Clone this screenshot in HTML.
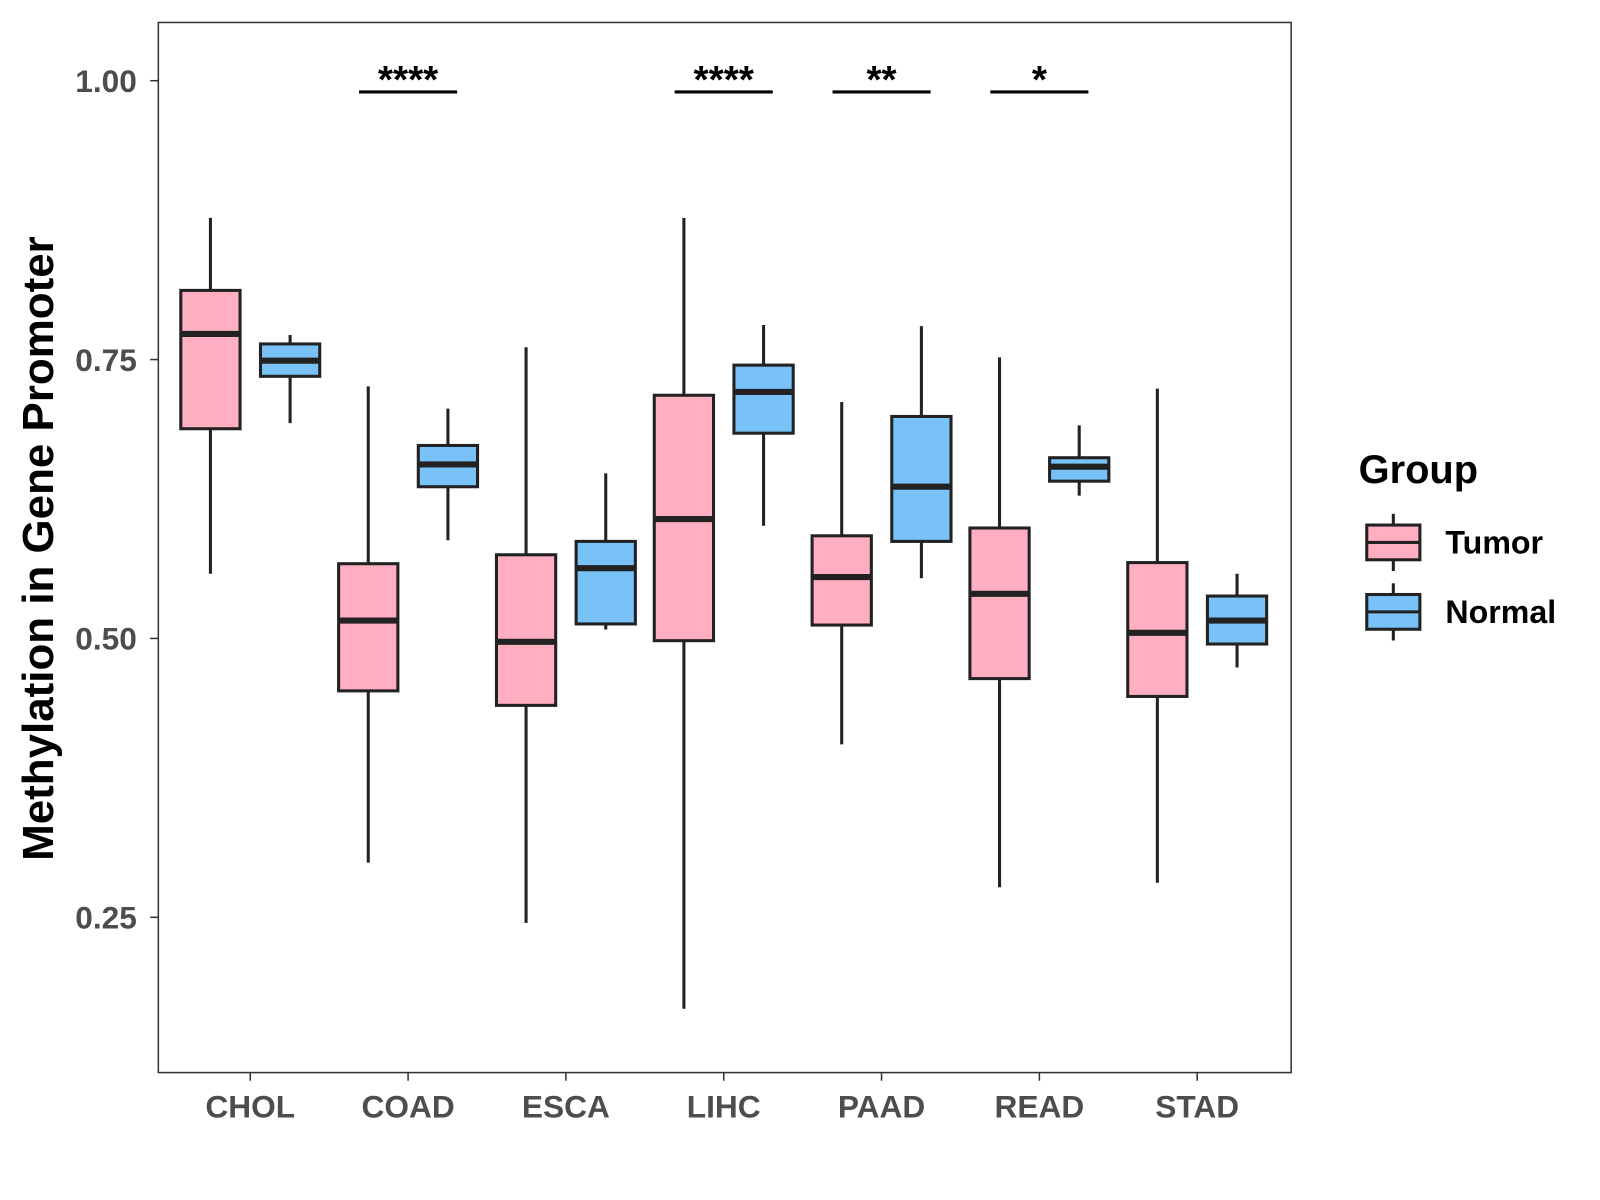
<!DOCTYPE html>
<html><head><meta charset="utf-8"><style>body{margin:0;background:#fff}svg{display:block;font-family:"Liberation Sans",Arial,sans-serif}</style></head>
<body>
<svg id="chart" width="1600" height="1200" viewBox="0 0 1600 1200" xmlns="http://www.w3.org/2000/svg">
<rect width="1600" height="1200" fill="#fff"/>
<g id="plot" transform="scale(1.0215)"></g>
</svg>
<script>
const categories = ["CHOL","COAD","ESCA","LIHC","PAAD","READ","STAD"];
// [lowerWhisker, Q1, median, Q3, upperWhisker]
const tumorStats = [
 [0.558,0.688,0.773,0.812,0.877],
 [0.299,0.453,0.516,0.567,0.726],
 [0.245,0.440,0.497,0.575,0.761],
 [0.168,0.498,0.607,0.718,0.877],
 [0.405,0.512,0.555,0.592,0.712],
 [0.277,0.464,0.540,0.599,0.752],
 [0.281,0.448,0.505,0.568,0.724]];
const normalStats = [
 [0.693,0.735,0.749,0.764,0.772],
 [0.588,0.636,0.656,0.673,0.706],
 [0.508,0.513,0.563,0.587,0.648],
 [0.601,0.684,0.721,0.745,0.781],
 [0.554,0.587,0.636,0.699,0.780],
 [0.628,0.641,0.654,0.662,0.691],
 [0.474,0.495,0.516,0.538,0.558]];
const sigLabels = ["","****","","****","**","*",""];
const yTicks = [0.25,0.50,0.75,1.00];
const yTickLabels = ["0.25","0.50","0.75","1.00"];

const NS="http://www.w3.org/2000/svg";
const g=document.getElementById('plot');
const P={l:155,r:1264,t:22,b:1050};
const y=v=>79+(1-v)*1092;
const x=i=>245+i*154.5;
function mk(tag,attrs,parent){const e=document.createElementNS(NS,tag);for(const k in attrs)e.setAttribute(k,attrs[k]);(parent||g).appendChild(e);return e;}

const panel=mk('rect',{x:P.l,y:P.t,width:P.r-P.l,height:P.b-P.t,fill:'none',stroke:'#333',"stroke-width":1.5});



yTicks.forEach((v,i)=>{
 const t=mk('line',{x1:P.l-8,x2:P.l,y1:y(v),y2:y(v),stroke:'#333',"stroke-width":1.5});
 
 
 const l=mk('text',{x:P.l-21,y:y(v)+11,"text-anchor":'end',"font-size":31,"font-weight":'bold',fill:'#4d4d4d'});
 l.textContent=yTickLabels[i];
 
 
});
categories.forEach((c,i)=>{
 const t=mk('line',{x1:x(i),x2:x(i),y1:P.b,y2:P.b+8,stroke:'#333',"stroke-width":1.5});
 
 
 const l=mk('text',{x:x(i),y:P.b+44,"text-anchor":'middle',"font-size":31,"font-weight":'bold',fill:'#4d4d4d'});
 l.textContent=c;
 
 
});
function box(cx,s,fill,name){
 const grp=mk('g',{});
 
 
 const w=29;
 mk('line',{x1:cx,x2:cx,y1:y(s[4]),y2:y(s[3]),stroke:'#222',"stroke-width":3},grp);
 mk('line',{x1:cx,x2:cx,y1:y(s[1]),y2:y(s[0]),stroke:'#222',"stroke-width":3},grp);
 mk('rect',{x:cx-w,y:y(s[3]),width:2*w,height:y(s[1])-y(s[3]),fill:fill,stroke:'#222',"stroke-width":3},grp);
 mk('line',{x1:cx-w,x2:cx+w,y1:y(s[2]),y2:y(s[2]),stroke:'#222',"stroke-width":6},grp);
}
categories.forEach((c,i)=>{
 box(x(i)-39,tumorStats[i],'#ffafc1','tumor-box-'+c.toLowerCase());
 box(x(i)+39,normalStats[i],'#79c2f7','normal-box-'+c.toLowerCase());
 if(sigLabels[i]){
  const b=mk('line',{x1:x(i)-48,x2:x(i)+48,y1:90,y2:90,stroke:'#000',"stroke-width":3});
  
  
  const t=mk('text',{x:x(i),y:91,"text-anchor":'middle',"font-size":38,"font-weight":'bold',fill:'#000'});
  t.textContent=sigLabels[i];
  
  
 }
});
const yt=mk('text',{x:0,y:0,transform:'translate(52,537) rotate(-90)',"text-anchor":'middle',"font-size":43,"font-weight":'bold',fill:'#000'});
yt.textContent='Methylation in Gene Promoter';



const lg=mk('g',{});


const lt=mk('text',{x:1330,y:473,"font-size":39,"font-weight":'bold',fill:'#000'},lg);
lt.textContent='Group';
[['Tumor','#ffafc1',531],['Normal','#79c2f7',599]].forEach(([n,f,cy])=>{
 const e=mk('g',{},lg);
 
 
 mk('line',{x1:1364,x2:1364,y1:cy-28,y2:cy+28,stroke:'#222',"stroke-width":3},e);
 mk('rect',{x:1338,y:cy-17,width:52,height:34,fill:f,stroke:'#222',"stroke-width":3},e);
 mk('line',{x1:1338,x2:1390,y1:cy,y2:cy,stroke:'#222',"stroke-width":3},e);
 const t=mk('text',{x:1415,y:cy+11,"font-size":31.5,"font-weight":'bold',fill:'#000'},e);
 t.textContent=n;
});
</script>
</body></html>
